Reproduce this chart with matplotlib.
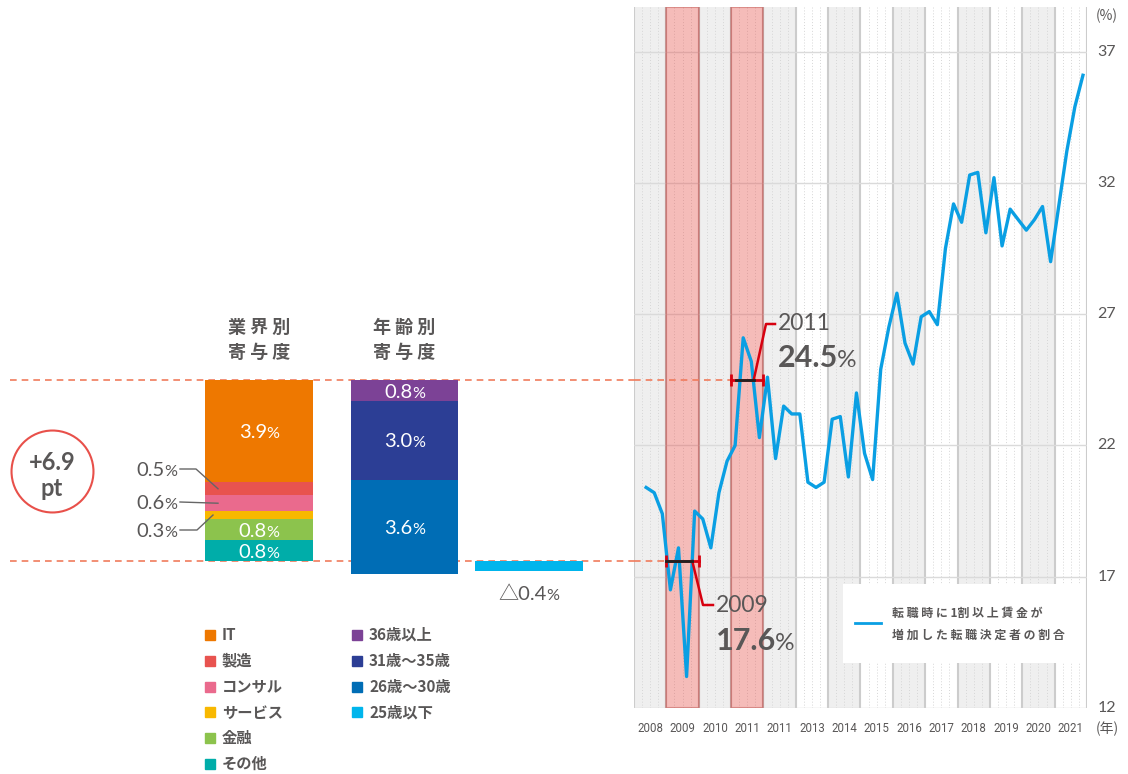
import numpy as np
import pandas as pd
import matplotlib
matplotlib.use("Agg")
import matplotlib.pyplot as plt
from matplotlib import font_manager
from matplotlib.patches import Rectangle
from matplotlib.transforms import offset_copy

plt.rcParams["font.family"] = ["Lato", "Noto Sans CJK JP", "DejaVu Sans"]

# contribution by industry (stacked bottom -> top)
industry_labels = ["その他", "金融", "サービス", "コンサル", "製造", "IT"]
industry_values = [0.8, 0.8, 0.3, 0.6, 0.5, 3.9]
industry_colors = ["#00ada9", "#8cc34d", "#f8b800", "#ea6a8d", "#e8534f", "#ee7800"]

# contribution by age (stacked top -> bottom, last one negative)
age_labels = ["36歳以上", "31歳～35歳", "26歳～30歳", "25歳以下"]
age_values = [0.8, 3.0, 3.6, -0.4]
age_colors = ["#7c4296", "#2c3e95", "#006db5", "#00b5ec"]

base_2009 = 17.6
peak_2011 = 24.5
total_change = "+6.9"

# share of job changers with 10%+ wage increase, quarterly
quarters = pd.period_range("2008Q2", "2021Q4", freq="Q")
rate = [20.4, 20.2, 19.4,
        16.5, 18.1, 13.2, 19.5,
        19.2, 18.1, 20.2, 21.4,
        22.0, 26.1, 25.2, 22.3,
        24.6, 21.5, 23.5, 23.2,
        23.2, 20.6, 20.4, 20.6,
        23.0, 23.1, 20.8, 24.0,
        21.7, 20.7, 24.9, 26.5,
        27.8, 25.9, 25.1, 26.9,
        27.1, 26.6, 29.5, 31.2,
        30.5, 32.3, 32.4, 30.1,
        32.2, 29.6, 31.0, 30.6,
        30.2, 30.6, 31.1, 29.0,
        31.1, 33.2, 34.9, 36.1]
year_labels = ["2008", "2009", "2010", "2011", "2011", "2013", "2014",
               "2015", "2016", "2017", "2018", "2019", "2020", "2021"]
yticks = [12, 17, 22, 27, 32, 37]
line_label = "転職時に1割以上賃金が\n増加した転職決定者の割合"

GRAY = "#595757"
RED = "#d7000f"
DASH = "#f07b5c"
NUM_FONT = ["Lato", "Noto Sans CJK JP"]
JP_FONT = ["Noto Sans CJK JP", "DejaVu Sans"]

installed = {f.name for f in font_manager.fontManager.ttflist}
if "Liberation Sans Narrow" in installed:
    YEAR_FONT, YEAR_SIZE = "Liberation Sans Narrow", 10
else:
    YEAR_FONT, YEAR_SIZE = "Roboto", 8.3

W, H = 1128, 774
R_L, R_R = 634, 1087
AX_TOP, AX_BOT = 7, 708
YMIN, YMAX = 12, 38.7


def fx(x):
    return x / W


def fy(y):
    return 1 - y / H


def py(y):
    return YMIN + (AX_BOT - y) * (YMAX - YMIN) / (AX_BOT - AX_TOP)


def px(x):
    return 2008 + (x - R_L) * 14 / (R_R - R_L)


fig = plt.figure(figsize=(W / 100, H / 100), dpi=100)
renderer = fig.canvas.get_renderer()


def pct_text(ax, x, y, num, size, color, weight="normal", ha="center", z=10):
    t1 = ax.text(x, y, num, fontsize=size, color=color, fontweight=weight,
                 family=NUM_FONT, ha="left", va="baseline", zorder=z)
    t2 = ax.text(x, y, "%", fontsize=size * 0.8, color=color,
                 family=NUM_FONT, ha="left", va="baseline", zorder=z)
    w1 = t1.get_window_extent(renderer).width - size * 0.05
    w2 = t2.get_window_extent(renderer).width
    start = {"left": 0, "center": -(w1 + w2) / 2, "right": -(w1 + w2)}[ha]
    dy = -0.36 * size * 100 / 72
    t1.set_transform(offset_copy(ax.transData, fig=fig, x=start, y=dy, units="dots"))
    t2.set_transform(offset_copy(ax.transData, fig=fig, x=start + w1, y=dy, units="dots"))


ax_l = fig.add_axes([0, fy(AX_BOT), fx(R_L), (AX_BOT - AX_TOP) / H])
ax_l.set_xlim(0, R_L)
ax_l.set_ylim(YMIN, YMAX)
ax_l.axis("off")

ax = fig.add_axes([fx(R_L), fy(AX_BOT), fx(R_R) - fx(R_L), (AX_BOT - AX_TOP) / H])
ax.set_xlim(2008, 2022)
ax.set_ylim(YMIN, YMAX)
for s in ax.spines.values():
    s.set_visible(False)

# ---- right: line chart background ----
for i, yr in enumerate(range(2008, 2022)):
    if i % 2 == 0:
        ax.axvspan(yr, yr + 1, color="#efefef", lw=0, zorder=0)
for yr in range(2008, 2022):
    for q in (0.25, 0.5, 0.75):
        ax.axvline(yr + q, color="#d6d6d6", lw=0.7, ls=(0, (1, 2)), zorder=1)
for yr in range(2008, 2023):
    ax.axvline(yr, color="#cccccc", lw=1.5, zorder=1)
for v in yticks:
    ax.axhline(v, color="#dadada", lw=1, zorder=1.5)
for yr in (2009, 2011):
    ax.axvspan(yr, yr + 1, facecolor="#e8605a", edgecolor="#b84a46",
               alpha=0.42, lw=1.5, zorder=2)

x = [p.year + (p.quarter - 0.5) / 4 for p in quarters]
ax.plot(x, rate, color="#0a9fe3", lw=2.4, zorder=5)

# dashed reference levels across both panels
for val, end in ((base_2009, 2009), (peak_2011, 2011)):
    ax.plot([2008, end], [val, val], color=DASH, lw=1.2, ls=(0, (4, 3)), zorder=3)
    ax_l.plot([10, R_L], [val, val], color=DASH, lw=1.2, ls=(0, (4, 3)), zorder=1)

# range markers + leaders
marks = [(2009, base_2009, (2009.0, 2009.8), 2009.8, (703, 605, 713), "2009", 605, 639),
         (2011, peak_2011, (2011.15, 2011.7), 2011.7, (766, 324, 775), "2011", 324, 356)]
for yr, val, blk, lx, (ex, ey, tx), lab, ly1, ly2 in marks:
    ax.plot([yr, yr + 1], [val, val], color=RED, lw=2, zorder=6,
            marker="|", ms=9, mew=2, markevery=[0, 1])
    ax.plot(blk, [val, val], color="#222222", lw=2, zorder=7)
    ax.plot([lx, px(ex), px(tx)], [val, py(ey), py(ey)], color=RED, lw=1.8, zorder=6)
    ax.text(px(tx + 3), py(ly1), lab, fontsize=16.5, color=GRAY, family=NUM_FONT,
            ha="left", va="center", zorder=10)
    pct_text(ax, px(tx + 3), py(ly2), f"{val:.1f}", 22, GRAY, weight="bold", ha="left")

# axis labels
ax.set_yticks([])
ytr = ax.get_yaxis_transform()
for v in yticks:
    ax.text(1 + (1107 - R_R) / (R_R - R_L), v, str(v), transform=ytr, fontsize=11.5,
            color=GRAY, ha="center", va="center", family=NUM_FONT)
ax.set_xticks(np.arange(2008, 2022) + 0.5, year_labels)
ax.tick_params(axis="x", length=0, pad=10, labelsize=YEAR_SIZE, labelcolor=GRAY)
for lab in ax.get_xticklabels():
    lab.set_family(YEAR_FONT)
fig.text(fx(1107), fy(16), "(%)", fontsize=10, color=GRAY, ha="center", va="center",
         family=JP_FONT)
fig.text(fx(1107), fy(729), "(年)", fontsize=10, color=GRAY, ha="center", va="center",
         family=JP_FONT)

# line legend box
ax.add_patch(Rectangle((0.461, 0.064), 0.524, 0.113, transform=ax.transAxes,
                       facecolor="white", edgecolor="none", zorder=8))
ax.plot([0.488, 0.545], [0.121, 0.121], transform=ax.transAxes, color="#0a9fe3",
        lw=2, zorder=9)
for i, line in enumerate(line_label.split("\n")):
    ax.text(0.570, (0.1355, 0.104)[i], " ".join(line).replace("1 ", "1"),
            transform=ax.transAxes, fontsize=8.6, fontweight="bold", color=GRAY,
            family=JP_FONT, ha="left", va="center", zorder=9)

# ---- left: contribution bars ----
ind_bottoms = base_2009 + np.concatenate([[0], np.cumsum(industry_values)[:-1]])
ax_l.bar(259, industry_values, width=108, bottom=ind_bottoms, color=industry_colors,
         zorder=3)
pos = np.array(age_values[:3])
age_bottoms = peak_2011 - np.cumsum(pos)
ax_l.bar(404.5, pos, width=107, bottom=age_bottoms, color=age_colors[:3], zorder=3)
ax_l.bar(529, age_values[3], width=108, bottom=base_2009, color=age_colors[3], zorder=3)

side = {"製造": (469, 196, 218), "コンサル": (502, 180, 218), "サービス": (530, 197, 213)}
for lab, v, b, c in zip(industry_labels, industry_values, ind_bottoms, industry_colors):
    mid = b + v / 2
    if lab in side:
        ly, ex, tx = side[lab]
        ax_l.plot([180, ex, tx], [py(ly), py(ly), mid], color="#666666", lw=1, zorder=4)
        pct_text(ax_l, 177, py(ly), f"{v:.1f}", 14.5, GRAY, ha="right")
    else:
        pct_text(ax_l, 259, mid, f"{v:.1f}", 14.5, "white")
for v, b in zip(pos, age_bottoms):
    pct_text(ax_l, 404.5, b + v / 2, f"{v:.1f}", 14.5, "white")
pct_text(ax_l, 529, py(593), f"△{abs(age_values[3]):.1f}", 14.5, GRAY)

for xc, lines in ((259, ("業 界 別", "寄 与 度")), (404.5, ("年 齢 別", "寄 与 度"))):
    for yy, t in zip((327, 352), lines):
        fig.text(fx(xc), fy(yy), t, fontsize=13, fontweight="bold", color=GRAY,
                 ha="center", va="center", family=JP_FONT)

# total change circle
ax_l.plot(52, py(471), marker="o", ms=59, mfc="none", mec="#e8504a", mew=1.5)
ax_l.text(52, py(463), total_change, fontsize=17, fontweight="bold", color=GRAY,
          ha="center", va="center", family=NUM_FONT)
ax_l.text(52, py(489), "pt", fontsize=17, fontweight="bold", color=GRAY,
          ha="center", va="center", family=NUM_FONT)

# legends
legend_cols = [(205, list(zip(industry_labels[::-1], industry_colors[::-1]))),
               (352, list(zip(age_labels, age_colors)))]
for x0, items in legend_cols:
    for i, (lab, col) in enumerate(items):
        yy = 635 + i * 25.8
        fig.add_artist(Rectangle((fx(x0), fy(yy + 5)), 10 / W, 10 / H,
                                 transform=fig.transFigure, color=col))
        fig.text(fx(x0 + 17), fy(yy), lab, fontsize=11, fontweight="bold", color=GRAY,
                 ha="left", va="center", family=JP_FONT)

fig.savefig("out.png", dpi=100)
